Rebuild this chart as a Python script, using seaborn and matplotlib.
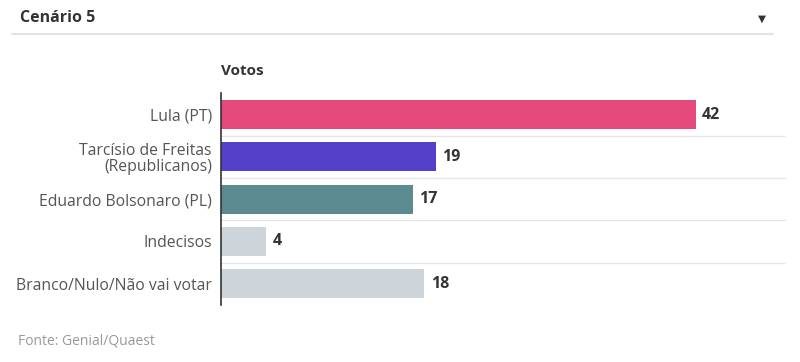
import matplotlib
matplotlib.use("Agg")
import matplotlib.pyplot as plt
import seaborn as sns
import pandas as pd

sns.set_style("white")
plt.rcParams["font.family"] = ["Open Sans", "DejaVu Sans"]

# data
candidates = ["Lula (PT)", "Tarcísio de Freitas\n(Republicanos)", "Eduardo Bolsonaro (PL)",
              "Indecisos", "Branco/Nulo/Não vai votar"]
votes = [42, 19, 17, 4, 18]
colors = ["#E5487A", "#5440C8", "#5B8A90", "#CDD5DB", "#CDD5DB"]

df = pd.DataFrame({"cand": candidates, "votos": votes})

fig = plt.figure(figsize=(8, 3.62), dpi=100)
ax = fig.add_axes([0.27625, 0.158, 0.70625, 0.584])

sns.barplot(data=df, y="cand", x="votos", hue="cand", palette=colors, orient="h",
            width=0.69, legend=False, ax=ax, saturation=1, edgecolor="none")

ax.set_xlim(0, 50)
ax.set_ylim(len(candidates) - 0.5, -0.5)
ax.set_xticks([])
ax.set_xlabel("")
ax.set_ylabel("")
for s in ["top", "right", "bottom"]:
    ax.spines[s].set_visible(False)
ax.spines["left"].set_color("#333333")
ax.spines["left"].set_linewidth(1.2)
ax.tick_params(axis="y", length=0, pad=6.5, labelsize=11.3, labelcolor="#555555")
for lbl in ax.get_yticklabels():
    lbl.set_linespacing(1.05)

# row separators
for i in range(len(candidates) - 1):
    ax.axhline(i + 0.5, color="#E6E6E6", lw=1, zorder=0)

for i, v in enumerate(votes):
    ax.text(v + 0.55, i, str(v), va="center", ha="left", fontsize=11.5,
            fontweight="bold", color="#333333")

# header
fig.text(20 / 800, 1 - 18 / 362, "Cenário 5", fontsize=11.5, fontweight="bold",
         color="#333333", va="center", ha="left")
fig.text(762 / 800, 1 - 19 / 362, "▼", fontsize=7.5, color="#333333", va="center", ha="center",
         family=["DejaVu Sans"])
fig.add_artist(plt.Line2D([12 / 800, 773 / 800], [1 - 34 / 362] * 2, color="#E3E3E3", lw=1.5))
fig.text(221 / 800, 1 - 71 / 362, "Votos", fontsize=11, fontweight="bold",
         color="#333333", va="center", ha="left")

fig.text(18 / 800, 1 - 341 / 362, "Fonte: Genial/Quaest", fontsize=10, color="#999999",
         va="center", ha="left")

plt.savefig("out.png", dpi=100)
plt.close()
